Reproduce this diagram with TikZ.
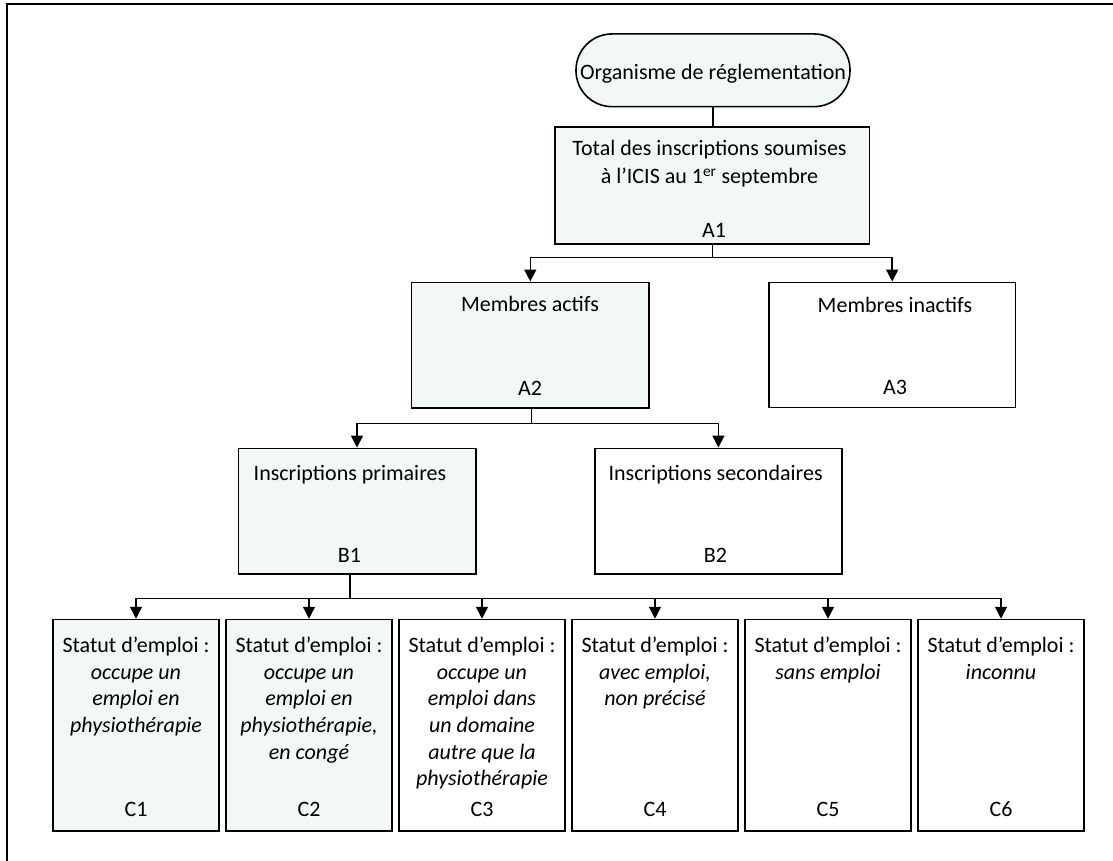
\documentclass[tikz,border=0pt]{standalone}
\usepackage{fontspec}
\setmainfont{Carlito}
\usetikzlibrary{arrows.meta}
\definecolor{boxfill}{RGB}{242,248,247}
\begin{document}
\begin{tikzpicture}[x=1pt,y=-1pt]
\tikzset{
  bx/.style={draw=black, line width=1.6pt, inner sep=0pt, anchor=center},
  filledbox/.style={bx, fill=boxfill},
  plainbox/.style={bx, fill=white},
  cbox/.style={minimum width=166pt, minimum height=211.5pt},
  lbl/.style={anchor=base, inner sep=0pt, font=\fontsize{22}{26.6}\selectfont},
  conn/.style={line width=1.5pt},
  arr/.style={conn, -{Triangle[width=12pt,length=12pt]}},
}
\useasboundingbox (0,0) rectangle (1113,861);
% frame (only left and top sides visible)
\draw[line width=1.5pt] (7,861) -- (7,4) -- (1113,4);

% boxes
\node[filledbox, rounded corners=36pt, minimum width=274pt, minimum height=72.7pt] (org) at (713,70.3) {};
\node[filledbox, minimum width=314.3pt, minimum height=117.3pt] (A1) at (712.2,185.4) {};
\node[filledbox, minimum width=237.3pt, minimum height=125.4pt] (A2) at (530.3,345) {};
\node[plainbox, minimum width=246.3pt, minimum height=125.2pt] (A3) at (892.2,345) {};
\node[filledbox, minimum width=237.4pt, minimum height=125.7pt] (B1) at (357,511.2) {};
\node[plainbox, minimum width=246.8pt, minimum height=125.7pt] (B2) at (718.4,511.2) {};
\node[filledbox, cbox] (C1) at (136,725.3) {};
\node[filledbox, cbox] (C2) at (309,725.3) {};
\node[plainbox, cbox] (C3) at (482,725.3) {};
\node[plainbox, cbox] (C4) at (655,725.3) {};
\node[plainbox, cbox] (C5) at (828,725.3) {};
\node[plainbox, cbox] (C6) at (1001,725.3) {};

% texts
\node[lbl] (torg) at (713,80) {Organisme de réglementation};
\node[lbl, font=\fontsize{22}{28}\selectfont] (tA1) at (709.5,156) {\parbox[t]{310pt}{\centering Total des inscriptions soumises\\ à l’ICIS au 1\textsuperscript{er} septembre}};
\node[lbl] (lA1) at (714,237) {A1};
\node[lbl] (tA2) at (530,311.7) {Membres actifs};
\node[lbl] (lA2) at (530,395) {A2};
\node[lbl] (tA3) at (895,312) {Membres inactifs};
\node[lbl] (lA3) at (895,394.7) {A3};
\node[lbl] (tB1) at (350,480) {Inscriptions primaires};
\node[lbl] (lB1) at (349.5,562.3) {B1};
\node[lbl] (tB2) at (715.6,480) {Inscriptions secondaires};
\node[lbl] (lB2) at (715.5,562.3) {B2};

\node[lbl] (tC1) at (136,652.7) {\parbox[t]{166pt}{\centering Statut d’emploi~:\\ {\itshape occupe un\\ emploi en\\ physiothérapie}}};
\node[lbl] (tC2) at (309,652.7) {\parbox[t]{166pt}{\centering Statut d’emploi~:\\ {\itshape occupe un\\ emploi en\\ physiothérapie,\\ en congé}}};
\node[lbl] (tC3) at (482,652.7) {\parbox[t]{166pt}{\centering Statut d’emploi~:\\ {\itshape occupe un\\ emploi dans\\ un domaine\\ autre que la\\ physiothérapie}}};
\node[lbl] (tC4) at (655,652.7) {\parbox[t]{166pt}{\centering Statut d’emploi~:\\ {\itshape avec emploi,\\ non précisé}}};
\node[lbl] (tC5) at (828,652.7) {\parbox[t]{166pt}{\centering Statut d’emploi~:\\ {\itshape sans emploi}}};
\node[lbl] (tC6) at (1001,652.7) {\parbox[t]{166pt}{\centering Statut d’emploi~:\\ {\itshape inconnu}}};
\node[lbl] (lC1) at (136,816.7) {C1};
\node[lbl] (lC2) at (309,816.7) {C2};
\node[lbl] (lC3) at (482,816.7) {C3};
\node[lbl] (lC4) at (655,816.7) {C4};
\node[lbl] (lC5) at (828,816.7) {C5};
\node[lbl] (lC6) at (1001,816.7) {C6};

% connectors
\draw[conn] (org.south) -- (org.south |- A1.north);
\coordinate (h1) at (712.3,257.3);
\draw[conn] (A1.south -| h1) -- (h1);
\draw[arr] (h1) -| (A2.north);
\draw[arr] (h1) -| (A3.north);
\coordinate (h2) at (531.7,423.3);
\draw[conn] (A2.south -| h2) -- (h2);
\draw[arr] (h2) -| (B1.north);
\draw[arr] (h2) -| (B2.north);
\coordinate (h3) at (350,598.3);
\draw[conn] (B1.south -| h3) -- (h3);
\foreach \c in {C1,C2,C3,C4,C5,C6} {\draw[arr] (h3) -| (\c.north);}
\end{tikzpicture}
\end{document}
